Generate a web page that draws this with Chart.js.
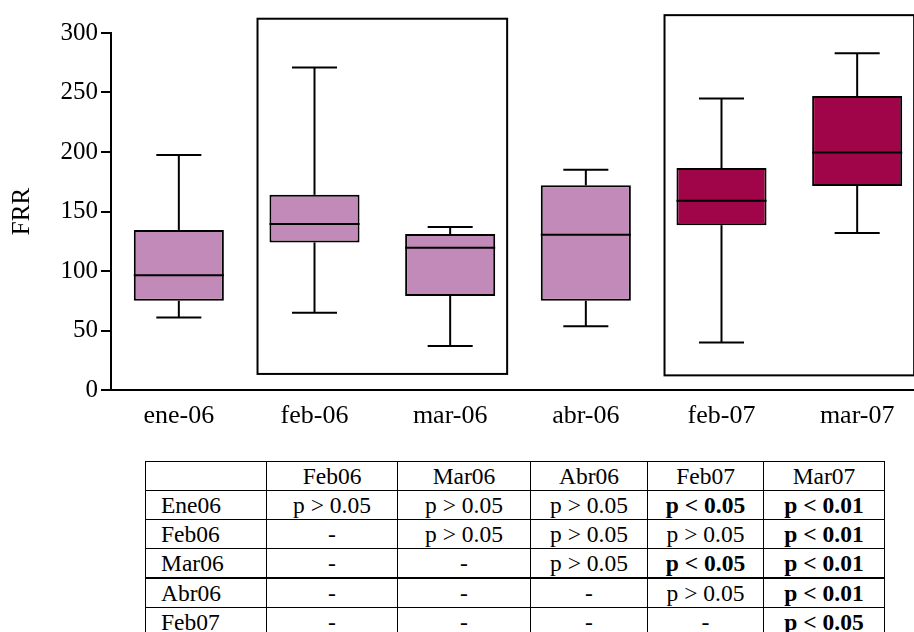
<!DOCTYPE html>
<html>
<head>
<meta charset="utf-8">
<script src="https://cdn.jsdelivr.net/npm/chart.js@4/dist/chart.umd.min.js"></script>
<style>
  html, body { margin:0; padding:0; background:#fff; overflow:hidden; width:914px; height:632px; }
  #wrap { position:absolute; left:0; top:0; width:940px; height:440px; }
  #ptable { position:absolute; left:145px; top:461px; border-collapse:collapse; table-layout:fixed;
            font-family:"Liberation Serif","DejaVu Serif",serif; font-size:23.5px; color:#000; }
  #ptable td { border:1.5px solid #000; padding:0; height:28px; line-height:28px; text-align:center; white-space:nowrap; }
  #ptable td.rh { text-align:left; padding-left:15px; }
  #ptable td.b { font-weight:bold; }
  #ptable tr.thick td { border-bottom-width:2.5px; }
</style>
</head>
<body>
<div id="wrap"><canvas id="c" width="940" height="440"></canvas></div>
<table id="ptable"></table>
<script>
// ---- data ----
const categories = ['ene-06','feb-06','mar-06','abr-06','feb-07','mar-07'];
const mins    = [61, 65, 37, 53.5, 40, 132];
const q1s     = [75, 124, 79, 75, 138.5, 171.5];
const medians = [96.5, 139.5, 119.5, 130.5, 159, 199.5];
const q3s     = [134.5, 164, 131, 172, 186.5, 247];
const maxs    = [197.5, 271, 137, 185, 245, 283];
const yTicks  = [0, 50, 100, 150, 200, 250, 300];

const tableCols = ['Feb06','Mar06','Abr06','Feb07','Mar07'];
const tableRows = ['Ene06','Feb06','Mar06','Abr06','Feb07'];
const pEne06 = ['p > 0.05','p > 0.05','p > 0.05','p < 0.05','p < 0.01'];
const pFeb06 = ['-','p > 0.05','p > 0.05','p > 0.05','p < 0.01'];
const pMar06 = ['-','-','p > 0.05','p < 0.05','p < 0.01'];
const pAbr06 = ['-','-','-','p > 0.05','p < 0.01'];
const pFeb07 = ['-','-','-','-','p < 0.05'];
const pRows = [pEne06, pFeb06, pMar06, pAbr06, pFeb07];

// ---- styles ----
const FONT = '"Liberation Serif","DejaVu Serif",serif';
const light = '#C28AB8', dark = '#A0054A';
const boxColors = categories.map((c,i)=> i >= 4 ? dark : light);
const groupFrames = [ {from:1, to:2, top:312, bottom:13.5}, {from:4, to:5, top:315, bottom:12.3} ];

const whiskerPlugin = {
  id:'whiskers',
  afterDatasetsDraw(chart){
    const ctx = chart.ctx, y = chart.scales.y;
    const meta = chart.getDatasetMeta(0);
    ctx.save();
    ctx.strokeStyle = '#000'; ctx.lineWidth = 2;
    const line = (x1,y1,x2,y2)=>{ ctx.beginPath(); ctx.moveTo(x1,y1); ctx.lineTo(x2,y2); ctx.stroke(); };
    categories.forEach((c,i)=>{
      const bar = meta.data[i];
      const cx = bar.x, hw = bar.width/2, cap = hw/2;
      const pMin = y.getPixelForValue(mins[i]), pQ1 = y.getPixelForValue(q1s[i]);
      const pMed = y.getPixelForValue(medians[i]);
      const pQ3 = y.getPixelForValue(q3s[i]), pMax = y.getPixelForValue(maxs[i]);
      line(cx, pQ1, cx, pMin); line(cx-cap, pMin, cx+cap, pMin);
      line(cx, pQ3, cx, pMax); line(cx-cap, pMax, cx+cap, pMax);
      line(cx-hw, pMed, cx+hw, pMed);
    });
    ctx.restore();
  },
  afterDraw(chart){
    const ctx = chart.ctx, x = chart.scales.x, y = chart.scales.y;
    const step = x.getPixelForValue(1) - x.getPixelForValue(0);
    const pad = step * 0.42;
    ctx.save();
    ctx.strokeStyle = '#000'; ctx.lineWidth = 2;
    groupFrames.forEach(g=>{
      const xl = x.getPixelForValue(g.from) - pad, xr = x.getPixelForValue(g.to) + pad;
      const yt = y.getPixelForValue(g.top), yb = y.getPixelForValue(g.bottom);
      ctx.strokeRect(xl, yt, xr-xl, yb-yt);
    });
    ctx.restore();
  }
};

new Chart(document.getElementById('c'), {
  type:'bar',
  data:{
    labels: categories,
    datasets:[{
      data: categories.map((c,i)=>[q1s[i], q3s[i]]),
      backgroundColor: boxColors,
      borderColor:'#000',
      borderWidth:2,
      borderSkipped:false,
      barPercentage:0.664,
      categoryPercentage:1
    }]
  },
  options:{
    responsive:false,
    animation:false,
    devicePixelRatio:1,
    layout:{ padding:{ top:33, right:15, bottom:0, left:0 } },
    plugins:{ legend:{display:false}, tooltip:{enabled:false} },
    scales:{
      x:{
        offset:true,
        grid:{ drawOnChartArea:false, drawTicks:false },
        border:{ color:'#000', width:2 },
        ticks:{ color:'#000', font:{ family:FONT, size:26 }, padding:11, maxRotation:0 },
        afterFit(s){ s.height = 50; }
      },
      y:{
        min:0, max:300,
        afterBuildTicks(s){ s.ticks = yTicks.map(v=>({value:v})); },
        grid:{ drawOnChartArea:false, drawTicks:true, tickLength:10, color:'#000', lineWidth:2 },
        border:{ color:'#000', width:2 },
        ticks:{ color:'#000', font:{ family:FONT, size:25 }, padding:3 },
        title:{ display:true, text:'FRR', color:'#000', font:{ family:FONT, size:25 }, padding:{ top:7, bottom:0 } },
        afterFit(s){ s.width = 111; }
      }
    }
  },
  plugins:[whiskerPlugin]
});

// ---- table ----
const colWidths = [121, 131, 133, 117, 116, 121];
const tbl = document.getElementById('ptable');
const cg = document.createElement('colgroup');
colWidths.forEach(w=>{ const c=document.createElement('col'); c.style.width=w+'px'; cg.appendChild(c); });
tbl.appendChild(cg);
const hr = document.createElement('tr');
['', ...tableCols].forEach(t=>{ const td=document.createElement('td'); td.textContent=t; hr.appendChild(td); });
tbl.appendChild(hr);
tableRows.forEach((r,ri)=>{
  const tr = document.createElement('tr');
  if (ri === 2) tr.className = 'thick';
  const th = document.createElement('td'); th.className='rh'; th.textContent=r; tr.appendChild(th);
  pRows[ri].forEach(v=>{
    const td=document.createElement('td'); td.textContent=v;
    if (v.startsWith('p <')) td.className='b';
    tr.appendChild(td);
  });
  tbl.appendChild(tr);
});
</script>
</body>
</html>
